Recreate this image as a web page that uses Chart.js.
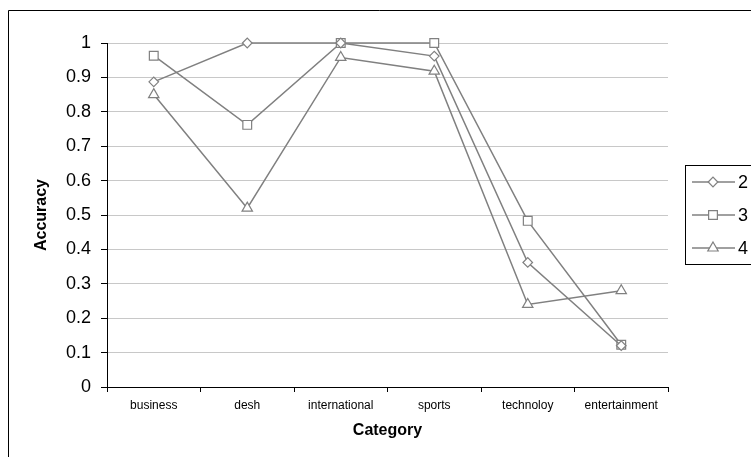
<!DOCTYPE html>
<html>
<head>
<meta charset="utf-8">
<script src="https://cdn.jsdelivr.net/npm/chart.js@4"></script>
<style>
  html, body { margin: 0; padding: 0; background: #fff; }
  #wrap { width: 751px; height: 457px; position: relative; }
</style>
</head>
<body>
<div id="wrap"><canvas id="chart"></canvas></div>
<script>
Chart.defaults.font.family = '"Liberation Sans", Arial, sans-serif';
Chart.defaults.color = '#000';

const categories = ['business', 'desh', 'international', 'sports', 'technoloy', 'entertainment'];
const seriesNames = ['2', '3', '4'];
const series2 = [0.887, 1.0, 1.0, 0.962, 0.362, 0.12];
const series3 = [0.963, 0.762, 1.0, 1.0, 0.483, 0.123];
const series4 = [0.85, 0.52, 0.958, 0.918, 0.24, 0.28];
const yTicks = [0, 0.1, 0.2, 0.3, 0.4, 0.5, 0.6, 0.7, 0.8, 0.9, 1];

const grey = '#808080';
const styles = [
  { pointStyle: 'rectRot', radius: 4.8 },
  { pointStyle: 'rect', radius: 6.2 },
  { pointStyle: 'triangle', radius: 6 }
];

function ds(label, data, i) {
  return {
    label: label, data: data, clip: false,
    borderColor: grey, borderWidth: 1.5,
    pointStyle: styles[i].pointStyle, pointRadius: styles[i].radius,
    pointBackgroundColor: '#fff', pointBorderColor: grey, pointBorderWidth: 1.2,
    tension: 0
  };
}

// frame around the chart and the cropped legend on the right
const framePlugin = {
  id: 'frame',
  beforeDraw(chart) {
    const ctx = chart.ctx;
    ctx.save();
    ctx.fillStyle = '#fff';
    ctx.fillRect(0, 0, chart.width, chart.height);
    ctx.strokeStyle = '#000';
    ctx.lineWidth = 1;
    ctx.beginPath();
    ctx.moveTo(8.5, chart.height);
    ctx.lineTo(8.5, 10.5);
    ctx.lineTo(chart.width, 10.5);
    ctx.stroke();
    ctx.restore();
  },
  afterDraw(chart) {
    const ctx = chart.ctx;
    ctx.save();
    ctx.strokeStyle = '#000';
    ctx.lineWidth = 1;
    ctx.strokeRect(685.5, 165.5, 100, 99);
    chart.data.datasets.forEach((d, i) => {
      const y = 182 + i * 33;
      ctx.strokeStyle = grey;
      ctx.lineWidth = 1.5;
      ctx.beginPath();
      ctx.moveTo(692, y);
      ctx.lineTo(735, y);
      ctx.stroke();
      ctx.fillStyle = '#fff';
      ctx.strokeStyle = grey;
      ctx.lineWidth = 1.2;
      Chart.helpers.drawPoint(ctx, { pointStyle: d.pointStyle, radius: d.pointRadius, rotation: 0, borderWidth: 1.2 }, 713, y);
      ctx.fillStyle = '#000';
      ctx.font = '18px "Liberation Sans", Arial, sans-serif';
      ctx.textBaseline = 'middle';
      ctx.textAlign = 'left';
      ctx.fillText(d.label, 738, y + 1);
    });
    ctx.restore();
  }
};

new Chart(document.getElementById('chart'), {
  type: 'line',
  data: {
    labels: categories,
    datasets: [ds(seriesNames[0], series2, 0), ds(seriesNames[1], series3, 1), ds(seriesNames[2], series4, 2)]
  },
  options: {
    responsive: true,
    maintainAspectRatio: false,
    animation: false,
    layout: { padding: { top: 43, right: 83, bottom: 0, left: 0 } },
    plugins: { legend: { display: false }, tooltip: { enabled: false } },
    scales: {
      x: {
        offset: true,
        grid: { offset: true, drawOnChartArea: false, tickColor: '#000', tickLength: 5 },
        border: { color: '#000', width: 1 },
        ticks: { font: { size: 12 }, color: '#000', padding: 6, maxRotation: 0, autoSkip: false },
        title: { display: true, text: 'Category', font: { size: 16, weight: 'bold' }, color: '#000', padding: { top: 0, bottom: 17 } },
        afterFit(scale) { scale.height = 70; }
      },
      y: {
        min: 0, max: 1,
        afterBuildTicks(scale) { scale.ticks = yTicks.map(v => ({ value: v })); },
        grid: { color: '#c8c8c8', tickColor: '#000', tickLength: 6 },
        border: { color: '#000', width: 1 },
        ticks: { font: { size: 18 }, color: '#000', padding: 10, callback: v => String(Number(v.toFixed(1))) },
        title: { display: true, text: 'Accuracy', font: { size: 16, weight: 'bold' }, color: '#000', padding: { top: 32, bottom: 0 } },
        afterFit(scale) { scale.width = 107; }
      }
    }
  },
  plugins: [framePlugin]
});
</script>
</body>
</html>
